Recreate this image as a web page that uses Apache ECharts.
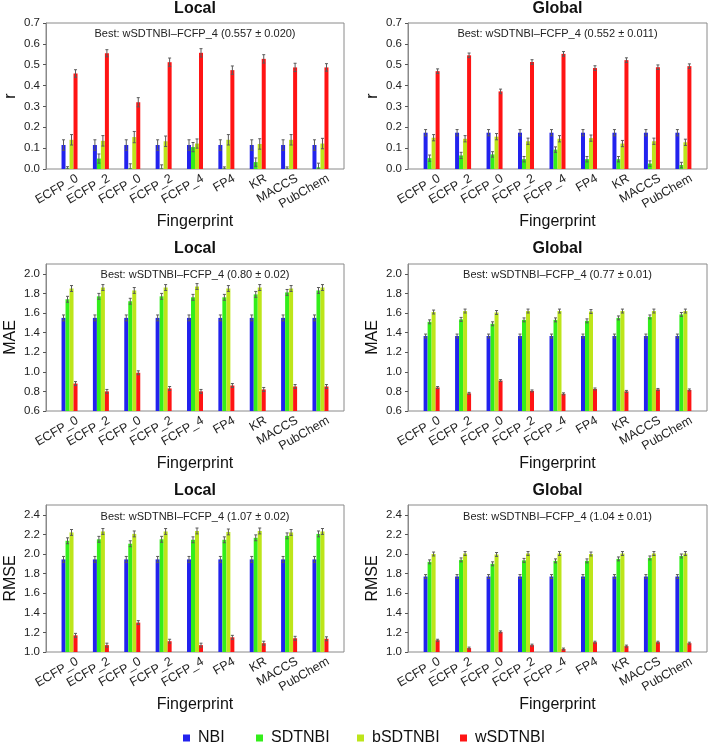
<!DOCTYPE html>
<html>
<head>
<meta charset="utf-8">
<script src="https://cdn.jsdelivr.net/npm/echarts@6/dist/echarts.min.js"></script>
<style>html,body{margin:0;padding:0;background:#fff;}#main{width:709px;height:744px;}</style>
</head>
<body>
<div id="main"></div>
<script>
// ---------- data ----------
const categories = ['ECFP_0','ECFP_2','FCFP_0','FCFP_2','FCFP_4','FP4','KR','MACCS','PubChem'];
const methods = ['NBI','SDTNBI','bSDTNBI','wSDTNBI'];

const rTicks = [0.0,0.1,0.2,0.3,0.4,0.5,0.6,0.7];
const maeTicks = [0.6,0.8,1.0,1.2,1.4,1.6,1.8,2.0];
const rmseTicks = [1.0,1.2,1.4,1.6,1.8,2.0,2.2,2.4];

// r, Local
const rLocalNBI      = [0.115,0.115,0.115,0.115,0.115,0.115,0.115,0.115,0.115];
const rLocalSDTNBI   = [0.003,0.050,0.003,0.002,0.105,0.002,0.033,0.002,0.008];
const rLocalbSDTNBI  = [0.140,0.135,0.153,0.133,0.122,0.140,0.120,0.140,0.122];
const rLocalwSDTNBI  = [0.458,0.555,0.320,0.512,0.557,0.474,0.528,0.487,0.487];
const rLocalNBIErr     = [0.025,0.025,0.025,0.025,0.025,0.025,0.025,0.025,0.025];
const rLocalSDTNBIErr  = [0.008,0.022,0.022,0.018,0.022,0.008,0.020,0.008,0.020];
const rLocalbSDTNBIErr = [0.025,0.025,0.027,0.025,0.022,0.025,0.025,0.025,0.025];
const rLocalwSDTNBIErr = [0.018,0.017,0.022,0.020,0.020,0.020,0.020,0.020,0.018];

// r, Global
const rGlobalNBI      = [0.174,0.174,0.174,0.174,0.174,0.174,0.174,0.174,0.174];
const rGlobalSDTNBI   = [0.052,0.065,0.070,0.047,0.093,0.047,0.047,0.026,0.019];
const rGlobalbSDTNBI  = [0.150,0.145,0.155,0.133,0.145,0.148,0.122,0.133,0.128];
const rGlobalwSDTNBI  = [0.469,0.545,0.372,0.513,0.552,0.484,0.522,0.488,0.493];
const rGlobalNBIErr     = [0.015,0.015,0.015,0.015,0.015,0.015,0.015,0.015,0.015];
const rGlobalSDTNBIErr  = [0.015,0.015,0.013,0.013,0.013,0.013,0.013,0.013,0.013];
const rGlobalbSDTNBIErr = [0.015,0.015,0.015,0.015,0.015,0.015,0.015,0.015,0.015];
const rGlobalwSDTNBIErr = [0.011,0.011,0.011,0.011,0.011,0.011,0.011,0.011,0.011];

// MAE, Local
const maeLocalNBI      = [1.55,1.55,1.55,1.55,1.55,1.55,1.55,1.55,1.55];
const maeLocalSDTNBI   = [1.74,1.77,1.72,1.77,1.76,1.76,1.79,1.81,1.83];
const maeLocalbSDTNBI  = [1.85,1.86,1.83,1.86,1.87,1.85,1.86,1.85,1.86];
const maeLocalwSDTNBI  = [0.88,0.80,0.99,0.83,0.80,0.86,0.82,0.85,0.85];
const maeLocalNBIErr     = [0.03,0.03,0.03,0.03,0.03,0.03,0.03,0.03,0.03];
const maeLocalSDTNBIErr  = [0.03,0.03,0.03,0.03,0.03,0.03,0.03,0.03,0.03];
const maeLocalbSDTNBIErr = [0.03,0.03,0.03,0.03,0.03,0.03,0.03,0.03,0.03];
const maeLocalwSDTNBIErr = [0.02,0.02,0.02,0.02,0.02,0.02,0.02,0.02,0.02];

// MAE, Global
const maeGlobalNBI      = [1.365,1.365,1.365,1.365,1.365,1.365,1.365,1.365,1.365];
const maeGlobalSDTNBI   = [1.51,1.535,1.49,1.53,1.53,1.52,1.55,1.56,1.585];
const maeGlobalbSDTNBI  = [1.61,1.62,1.605,1.62,1.62,1.615,1.62,1.62,1.62];
const maeGlobalwSDTNBI  = [0.84,0.78,0.91,0.805,0.775,0.825,0.80,0.82,0.815];
const maeGlobalNBIErr     = [0.02,0.02,0.02,0.02,0.02,0.02,0.02,0.02,0.02];
const maeGlobalSDTNBIErr  = [0.02,0.02,0.02,0.02,0.02,0.02,0.02,0.02,0.02];
const maeGlobalbSDTNBIErr = [0.02,0.02,0.02,0.02,0.02,0.02,0.02,0.02,0.02];
const maeGlobalwSDTNBIErr = [0.01,0.01,0.01,0.01,0.01,0.01,0.01,0.01,0.01];

// RMSE, Local
const rmseLocalNBI      = [1.945,1.945,1.945,1.945,1.945,1.945,1.945,1.945,1.945];
const rmseLocalSDTNBI   = [2.135,2.15,2.105,2.15,2.145,2.145,2.165,2.185,2.205];
const rmseLocalbSDTNBI  = [2.22,2.23,2.205,2.23,2.235,2.225,2.235,2.22,2.23];
const rmseLocalwSDTNBI  = [1.17,1.07,1.30,1.11,1.07,1.15,1.09,1.14,1.135];
const rmseLocalNBIErr     = [0.03,0.03,0.03,0.03,0.03,0.03,0.03,0.03,0.03];
const rmseLocalSDTNBIErr  = [0.03,0.03,0.03,0.03,0.03,0.03,0.03,0.03,0.03];
const rmseLocalbSDTNBIErr = [0.03,0.03,0.03,0.03,0.03,0.03,0.03,0.03,0.03];
const rmseLocalwSDTNBIErr = [0.02,0.02,0.02,0.02,0.02,0.02,0.02,0.02,0.02];

// RMSE, Global
const rmseGlobalNBI      = [1.77,1.77,1.77,1.77,1.77,1.77,1.77,1.77,1.77];
const rmseGlobalSDTNBI   = [1.92,1.94,1.90,1.935,1.93,1.93,1.95,1.96,1.98];
const rmseGlobalbSDTNBI  = [2.0,2.005,1.995,2.005,2.005,2.0,2.005,2.005,2.005];
const rmseGlobalwSDTNBI  = [1.12,1.04,1.205,1.07,1.03,1.10,1.06,1.10,1.09];
const rmseGlobalNBIErr     = [0.02,0.02,0.02,0.02,0.02,0.02,0.02,0.02,0.02];
const rmseGlobalSDTNBIErr  = [0.02,0.02,0.02,0.02,0.02,0.02,0.02,0.02,0.02];
const rmseGlobalbSDTNBIErr = [0.02,0.02,0.02,0.02,0.02,0.02,0.02,0.02,0.02];
const rmseGlobalwSDTNBIErr = [0.01,0.01,0.01,0.01,0.01,0.01,0.01,0.01,0.01];

const bestLabels = [
  'Best: wSDTNBI\u2013FCFP_4 (0.557 \u00b1 0.020)',
  'Best: wSDTNBI\u2013FCFP_4 (0.552 \u00b1 0.011)',
  'Best: wSDTNBI\u2013FCFP_4 (0.80 \u00b1 0.02)',
  'Best: wSDTNBI\u2013FCFP_4 (0.77 \u00b1 0.01)',
  'Best: wSDTNBI\u2013FCFP_4 (1.07 \u00b1 0.02)',
  'Best: wSDTNBI\u2013FCFP_4 (1.04 \u00b1 0.01)'
];

// ---------- layout / style ----------
const colors = ['#2222ee','#33ee1a','#bde51a','#ff1414'];
const FONT = '"Liberation Sans", Arial, Helvetica, sans-serif';
const cols = [{left:46,width:298},{left:408,width:299}];
const rows = [{top:23,height:146,titleY:9,bestY:34},{top:264,height:147,titleY:249,bestY:275},{top:505,height:147,titleY:491,bestY:517}];
const barW = 4;
const barOffsets = [-6,-2,2,6];

const panels = [
  {metric:'r', scope:'Local', row:0, col:0, min:0, max:0.7, ticks:rTicks,
   vals:[rLocalNBI,rLocalSDTNBI,rLocalbSDTNBI,rLocalwSDTNBI], errs:[rLocalNBIErr,rLocalSDTNBIErr,rLocalbSDTNBIErr,rLocalwSDTNBIErr]},
  {metric:'r', scope:'Global', row:0, col:1, min:0, max:0.7, ticks:rTicks,
   vals:[rGlobalNBI,rGlobalSDTNBI,rGlobalbSDTNBI,rGlobalwSDTNBI], errs:[rGlobalNBIErr,rGlobalSDTNBIErr,rGlobalbSDTNBIErr,rGlobalwSDTNBIErr]},
  {metric:'MAE', scope:'Local', row:1, col:0, min:0.6, max:2.1, ticks:maeTicks,
   vals:[maeLocalNBI,maeLocalSDTNBI,maeLocalbSDTNBI,maeLocalwSDTNBI], errs:[maeLocalNBIErr,maeLocalSDTNBIErr,maeLocalbSDTNBIErr,maeLocalwSDTNBIErr]},
  {metric:'MAE', scope:'Global', row:1, col:1, min:0.6, max:2.1, ticks:maeTicks,
   vals:[maeGlobalNBI,maeGlobalSDTNBI,maeGlobalbSDTNBI,maeGlobalwSDTNBI], errs:[maeGlobalNBIErr,maeGlobalSDTNBIErr,maeGlobalbSDTNBIErr,maeGlobalwSDTNBIErr]},
  {metric:'RMSE', scope:'Local', row:2, col:0, min:1.0, max:2.5, ticks:rmseTicks,
   vals:[rmseLocalNBI,rmseLocalSDTNBI,rmseLocalbSDTNBI,rmseLocalwSDTNBI], errs:[rmseLocalNBIErr,rmseLocalSDTNBIErr,rmseLocalbSDTNBIErr,rmseLocalwSDTNBIErr]},
  {metric:'RMSE', scope:'Global', row:2, col:1, min:1.0, max:2.5, ticks:rmseTicks,
   vals:[rmseGlobalNBI,rmseGlobalSDTNBI,rmseGlobalbSDTNBI,rmseGlobalwSDTNBI], errs:[rmseGlobalNBIErr,rmseGlobalSDTNBIErr,rmseGlobalbSDTNBIErr,rmseGlobalwSDTNBIErr]}
];

const grid = [], xAxis = [], yAxis = [], series = [], graphic = [];

panels.forEach((p, k) => {
  const c = cols[p.col], r = rows[p.row];
  const band = c.width / 9.5;
  const pad = band * 0.25;
  const fi = 2 * k, di = 2 * k + 1;
  grid.push({left:c.left, top:r.top, width:c.width, height:r.height, show:true,
             borderColor:'#8a8a8a', borderWidth:1, backgroundColor:'transparent'});
  grid.push({left:c.left + pad, top:r.top, width:c.width - 2 * pad, height:r.height});
  xAxis.push({gridIndex:fi, type:'value', min:0, max:1, show:false});
  yAxis.push({gridIndex:fi, type:'value', min:p.min, max:p.max,
    axisLine:{show:true, lineStyle:{color:'#8a8a8a'}},
    axisTick:{show:true, length:3, customValues:p.ticks, lineStyle:{color:'#555'}},
    axisLabel:{customValues:p.ticks, formatter:v => v.toFixed(1), fontSize:11.5, color:'#222', margin:6, fontFamily:FONT},
    splitLine:{show:false},
    name:p.metric, nameLocation:'middle', nameRotate:90, nameGap:27,
    nameTextStyle:{fontSize:16, color:'#111', fontFamily:FONT}});
  xAxis.push({gridIndex:di, type:'category', data:categories,
    axisLine:{show:false}, axisTick:{show:false},
    axisLabel:{rotate:30, interval:0, fontSize:12.5, margin:13, padding:[0,-9,0,0], color:'#222', fontFamily:FONT},
    name:'Fingerprint', nameLocation:'middle', nameGap:38,
    nameTextStyle:{fontSize:16, color:'#111', fontFamily:FONT}});
  yAxis.push({gridIndex:di, type:'value', min:p.min, max:p.max, show:false, splitLine:{show:false}});

  methods.forEach((m, j) => {
    series.push({type:'bar', name:m, xAxisIndex:di, yAxisIndex:di, data:p.vals[j],
      barWidth:barW, barGap:'0%', itemStyle:{color:colors[j]}, clip:true});
  });
  methods.forEach((m, j) => {
    const off = barOffsets[j];
    series.push({type:'custom', xAxisIndex:di, yAxisIndex:di, z:5, clip:true,
      data:categories.map((cat, i) => [i, p.vals[j][i], p.errs[j][i]]),
      encode:{x:0, y:1},
      renderItem:(params, api) => {
        const v = api.value(1), e = api.value(2);
        const top = api.coord([api.value(0), v + e]);
        const bot = api.coord([api.value(0), Math.max(v - e, p.min)]);
        const x = top[0] + off;
        const st = {stroke:'#5a5a5a', lineWidth:1};
        return {type:'group', children:[
          {type:'line', shape:{x1:x, y1:top[1], x2:x, y2:bot[1]}, style:st},
          {type:'line', shape:{x1:x - 1.5, y1:top[1], x2:x + 1.5, y2:top[1]}, style:st},
          {type:'line', shape:{x1:x - 1.5, y1:bot[1], x2:x + 1.5, y2:bot[1]}, style:st}
        ]};
      }});
  });

  const cx = c.left + c.width / 2;
  graphic.push({type:'text', x:cx, y:r.titleY, style:{text:p.scope, fontSize:16, fontWeight:'bold',
    fontFamily:FONT, fill:'#111', align:'center', verticalAlign:'middle'}});
  graphic.push({type:'text', x:cx, y:r.bestY, style:{text:bestLabels[k], fontSize:11,
    fontFamily:FONT, fill:'#222', align:'center', verticalAlign:'middle'}});
});

const legendLefts = [183, 256, 357, 460];
const legend = methods.map((m, j) => ({data:[m], left:legendLefts[j], top:730, padding:0, icon:'rect',
  itemWidth:7, itemHeight:7, itemGap:0, selectedMode:true,
  textStyle:{fontSize:16, color:'#111', fontFamily:FONT, padding:[0,0,0,3]}}));

const chart = echarts.init(document.getElementById('main'), null, {renderer:'canvas'});
chart.setOption({
  animation:false,
  textStyle:{fontFamily:FONT},
  color:colors,
  legend, grid, xAxis, yAxis, series, graphic
});
</script>
</body>
</html>
